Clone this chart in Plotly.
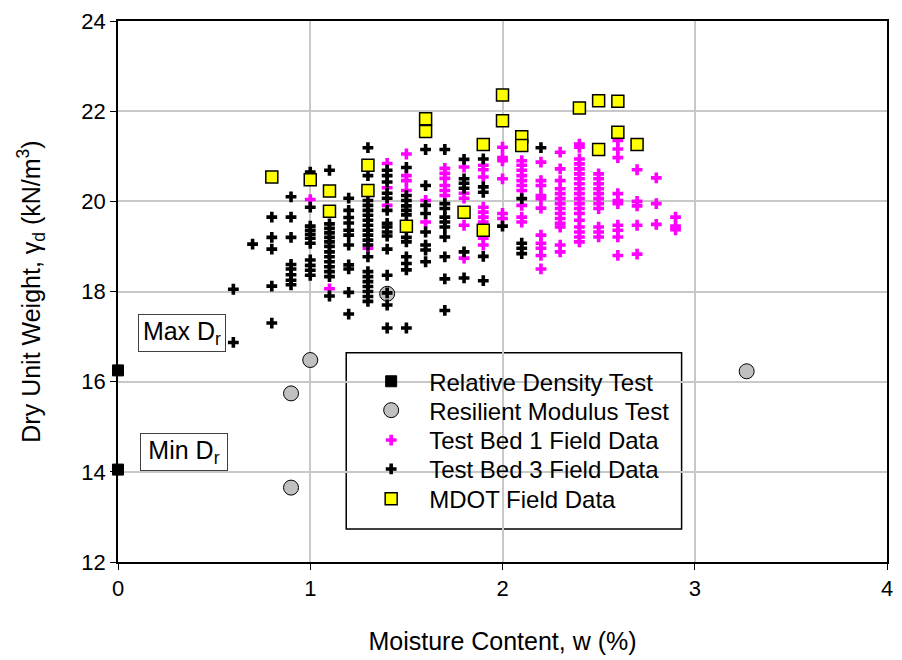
import plotly.graph_objects as go

# Relative density test (w = 0 %)
rd_w = [0.0, 0.0]
rd_gd = [16.25, 14.05]

# Resilient modulus test
rm_w = [1.4, 1.0, 0.9, 0.9, 3.27]
rm_gd = [17.95, 16.48, 15.74, 13.65, 16.23]

# Test Bed 1 field data
tb1_w = [1.0,
         1.1,
         1.3,
         1.4, 1.4, 1.4,
         1.5, 1.5, 1.5, 1.5,
         1.6, 1.6,
         1.7, 1.7, 1.7, 1.7, 1.7, 1.7,
         1.8, 1.8, 1.8, 1.8, 1.8,
         1.9, 1.9, 1.9, 1.9, 1.9, 1.9, 1.9, 1.9, 1.9,
         2.0, 2.0, 2.0, 2.0, 2.0, 2.0,
         2.1, 2.1, 2.1, 2.1, 2.1, 2.1, 2.1, 2.1, 2.1, 2.1,
         2.2, 2.2, 2.2, 2.2, 2.2, 2.2, 2.2, 2.2, 2.2, 2.2, 2.2,
         2.3, 2.3, 2.3, 2.3, 2.3, 2.3, 2.3, 2.3, 2.3, 2.3, 2.3, 2.3, 2.3, 2.3,
         2.4, 2.4, 2.4, 2.4, 2.4, 2.4, 2.4, 2.4, 2.4, 2.4, 2.4, 2.4, 2.4, 2.4,
         2.4, 2.4, 2.4, 2.4, 2.4,
         2.5, 2.5, 2.5, 2.5, 2.5, 2.5, 2.5, 2.5, 2.5, 2.5, 2.5,
         2.6, 2.6, 2.6, 2.6, 2.6, 2.6, 2.6, 2.6, 2.6, 2.6,
         2.7, 2.7, 2.7, 2.7, 2.7,
         2.8, 2.8, 2.8,
         2.9, 2.9, 2.9]
tb1_gd = [20.04,
          18.06,
          18.96,
          20.84, 20.30, 19.91,
          21.05, 20.57, 20.46, 20.24,
          20.02, 19.54,
          20.73, 20.62, 20.51, 20.35, 20.24, 20.13,
          20.76, 20.18, 20.07, 19.47, 18.74,
          20.80, 20.70, 20.54, 19.87, 19.76, 19.65, 19.54, 19.18, 19.03,
          21.20, 20.97, 20.90, 20.50, 19.73, 19.62,
          20.90, 20.80, 20.69, 20.57, 20.46, 20.35, 20.24, 19.91, 19.65, 19.54,
          20.87, 20.46, 20.35, 20.13, 20.06, 19.85, 19.25, 19.07, 18.96, 18.80, 18.50,
          21.09, 20.72, 20.46, 20.28, 20.17, 20.06, 19.95, 19.84, 19.73, 19.62, 19.51, 19.43, 19.03, 18.88,
          21.27, 21.20, 20.94, 20.83, 20.72, 20.61, 20.50, 20.39, 20.28, 20.17, 20.06, 19.95, 19.84, 19.73,
          19.58, 19.43, 19.32, 19.21, 19.10,
          20.61, 20.50, 20.39, 20.28, 20.17, 20.06, 19.95, 19.84, 19.43, 19.32, 19.21,
          21.35, 21.16, 20.97, 20.17, 20.02, 19.95, 19.47, 19.36, 19.21, 18.80,
          20.70, 20.00, 19.90, 19.47, 18.83,
          20.52, 19.95, 19.49,
          19.65, 19.45, 19.37]

# Test Bed 3 field data
tb3_w = [0.6, 0.6,
         0.7,
         0.8, 0.8, 0.8, 0.8, 0.8,
         0.9, 0.9, 0.9, 0.9, 0.9, 0.9, 0.9, 0.9,
         1.0, 1.0, 1.0, 1.0, 1.0, 1.0, 1.0, 1.0, 1.0, 1.0, 1.0,
         1.1, 1.1, 1.1, 1.1, 1.1, 1.1, 1.1, 1.1, 1.1, 1.1, 1.1, 1.1, 1.1, 1.1,
         1.2, 1.2, 1.2, 1.2, 1.2, 1.2, 1.2, 1.2, 1.2, 1.2, 1.2,
         1.3, 1.3, 1.3, 1.3, 1.3, 1.3, 1.3, 1.3, 1.3, 1.3, 1.3, 1.3, 1.3, 1.3,
         1.3, 1.3, 1.3, 1.3, 1.3, 1.3,
         1.4, 1.4, 1.4, 1.4, 1.4, 1.4, 1.4, 1.4, 1.4, 1.4, 1.4, 1.4, 1.4, 1.4, 1.4,
         1.5, 1.5, 1.5, 1.5, 1.5, 1.5, 1.5, 1.5, 1.5, 1.5, 1.5, 1.5,
         1.6, 1.6, 1.6, 1.6, 1.6, 1.6, 1.6, 1.6,
         1.7, 1.7, 1.7, 1.7, 1.7, 1.7, 1.7, 1.7, 1.7, 1.7,
         1.8, 1.8, 1.8, 1.8, 1.8, 1.8,
         1.9, 1.9, 1.9, 1.9, 1.9,
         2.0,
         2.1, 2.1, 2.1, 2.1,
         2.2]
tb3_gd = [18.05, 16.87,
          19.05,
          19.65, 19.20, 18.94, 18.12, 17.30,
          20.10, 19.65, 19.20, 18.60, 18.50, 18.37, 18.25, 18.15,
          20.65, 19.87, 19.45, 19.36, 19.27, 19.18, 19.07, 18.70, 18.58, 18.47, 18.36,
          20.69, 19.50, 19.40, 19.30, 19.20, 19.10, 19.00, 18.88, 18.77, 18.66, 18.55, 18.44, 18.33, 17.90,
          20.07, 19.80, 19.64, 19.52, 19.36, 19.25, 19.03, 18.59, 18.50, 17.98, 17.50,
          21.19, 20.57, 20.02, 19.91, 19.80, 19.69, 19.58, 19.47, 19.36, 19.25, 19.14, 19.03, 18.77, 18.44,
          18.33, 18.22, 18.11, 18.00, 17.89, 17.78,
          20.69, 20.57, 20.43, 20.18, 20.07, 19.80, 19.51, 19.43, 19.32, 19.23, 18.94, 18.36, 17.97, 17.70, 17.19,
          20.75, 20.13, 20.02, 19.90, 19.80, 19.70, 19.20, 19.10, 18.77, 18.62, 18.48, 17.19,
          21.15, 20.35, 19.91, 19.73, 19.32, 19.03, 18.92, 18.66,
          21.15, 19.95, 19.84, 19.65, 19.54, 19.43, 19.21, 18.77, 18.28, 17.58,
          20.93, 20.50, 20.40, 20.29, 18.88, 18.30,
          20.94, 20.32, 20.20, 18.78, 18.24,
          19.45,
          20.06, 19.07, 18.96, 18.84,
          21.19]

# MDOT field data
mdot_w = [0.8, 1.0, 1.1, 1.1, 1.3, 1.3, 1.5, 1.6, 1.6, 1.8, 1.9, 1.9,
          2.0, 2.0, 2.1, 2.1, 2.4, 2.5, 2.5, 2.6, 2.6, 2.7]
mdot_gd = [20.54, 20.48, 20.23, 19.78, 20.80, 20.24, 19.45, 21.83, 21.55, 19.76, 21.26, 19.36,
           22.36, 21.79, 21.43, 21.24, 22.07, 22.23, 21.15, 22.22, 21.53, 21.26]

x_ticks = [0, 1, 2, 3, 4]
y_ticks = [12, 14, 16, 18, 20, 22, 24]

FONT = "Liberation Sans, Arial, sans-serif"
W, H = 902, 660
L, R, T, B = 118, 9, 20, 97
PW, PH = W - L - R, H - T - B


def px_x(p):
    return (p - L) / PW


def px_y(p):
    return (H - B - p) / PH


fig = go.Figure()

fig.add_trace(go.Scatter(
    x=rd_w, y=rd_gd, mode="markers", name="Relative Density Test",
    marker=dict(symbol="square", size=11, color="black", line=dict(color="black", width=1)),
    cliponaxis=False, legend="legend"))
fig.add_trace(go.Scatter(
    x=rm_w, y=rm_gd, mode="markers", name="Resilient Modulus Test",
    marker=dict(symbol="circle", size=15, color="#c0c0c0", line=dict(color="black", width=1)),
    legend="legend2"))
fig.add_trace(go.Scatter(
    x=tb1_w, y=tb1_gd, mode="markers", name="Test Bed 1 Field Data",
    marker=dict(symbol="cross", size=9, color="#ff00ff", line=dict(width=0)),
    legend="legend3"))
fig.add_trace(go.Scatter(
    x=tb3_w, y=tb3_gd, mode="markers", name="Test Bed 3 Field Data",
    marker=dict(symbol="cross", size=9, color="black", line=dict(width=0)),
    legend="legend4"))
fig.add_trace(go.Scatter(
    x=mdot_w, y=mdot_gd, mode="markers", name="MDOT Field Data",
    marker=dict(symbol="square", size=12, color="#ffff00", line=dict(color="black", width=1.5)),
    legend="legend5"))

# legend frame
fig.add_shape(type="rect", xref="paper", yref="paper",
              x0=px_x(348), x1=px_x(686), y0=px_y(530), y1=px_y(353),
              fillcolor="white", line=dict(color="black", width=1.5), layer="between")

legend_rows = [382, 411, 441, 470, 500]
legend_names = ["legend", "legend2", "legend3", "legend4", "legend5"]
leg_layout = {}
for name, row in zip(legend_names, legend_rows):
    leg_layout[name] = dict(
        x=px_x(355), y=px_y(row), xanchor="left", yanchor="middle",
        bgcolor="rgba(0,0,0,0)", borderwidth=0, itemwidth=66,
        font=dict(family=FONT, size=24, color="black"))

# Max / Min Dr labels
for label, cx, cy in [("Max D<sub>r</sub>", 182, 333), ("Min D<sub>r</sub>", 185, 452.5)]:
    fig.add_annotation(
        x=px_x(cx), y=px_y(cy), xref="paper", yref="paper",
        xanchor="center", yanchor="middle",
        text=label, showarrow=False, font=dict(family=FONT, size=25, color="black"),
        bgcolor="white", bordercolor="#404040", borderwidth=1, borderpad=3,
        width=80, height=30, align="center", valign="middle")

fig.update_layout(
    width=W, height=H, autosize=False,
    margin=dict(l=L, r=R, t=T, b=B, pad=0),
    paper_bgcolor="white", plot_bgcolor="white",
    font=dict(family=FONT, size=20, color="black"),
    showlegend=True,
    **leg_layout,
)

fig.update_xaxes(
    range=[0, 4], tickvals=x_ticks, ticktext=[str(v) for v in x_ticks],
    showgrid=True, gridcolor="#c8c8c8", gridwidth=1.5, zeroline=False,
    showline=True, linecolor="black", linewidth=1.5, mirror=True,
    ticks="outside", ticklen=6, tickcolor="black", tickwidth=1,
    tickfont=dict(family=FONT, size=22, color="black"),
    title=dict(text="Moisture Content, w (%)", font=dict(family=FONT, size=25, color="black"), standoff=32),
)
fig.update_yaxes(
    range=[12, 24], tickvals=y_ticks, ticktext=[str(v) for v in y_ticks],
    showgrid=True, gridcolor="#c8c8c8", gridwidth=1.5, zeroline=False,
    showline=True, linecolor="black", linewidth=1.5, mirror=True,
    ticks="outside", ticklen=6, tickcolor="black", tickwidth=1,
    tickfont=dict(family=FONT, size=22, color="black"),
    title=dict(text="Dry Unit Weight, γ<sub>d</sub> (kN/m<sup>3</sup>)",
               font=dict(family=FONT, size=25, color="black"), standoff=34),
)

fig.write_html("out.html")
